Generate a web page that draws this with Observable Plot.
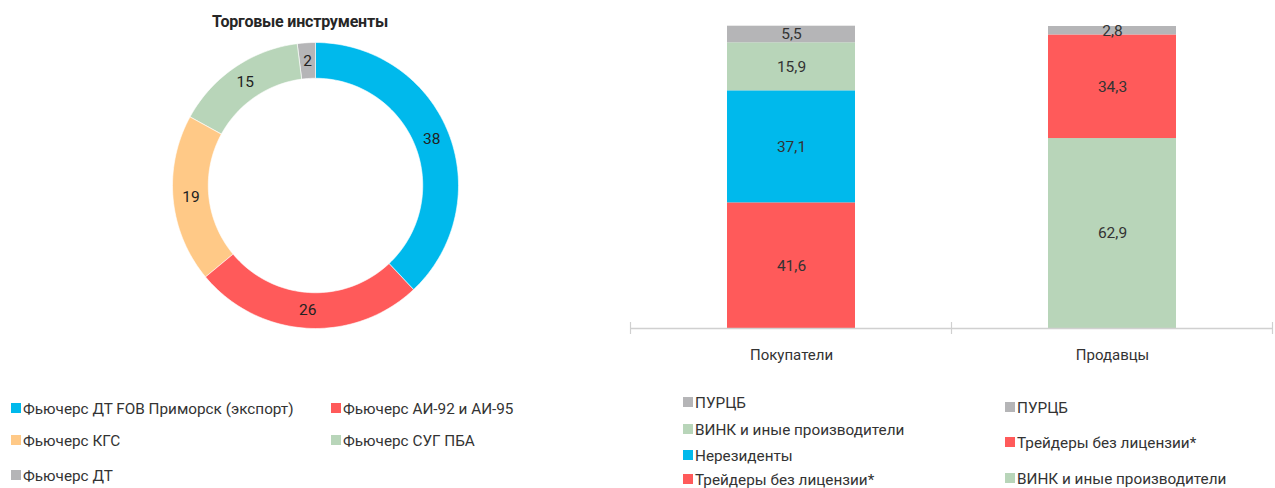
<!DOCTYPE html>
<html>
<head>
<meta charset="utf-8">
<script src="https://cdn.jsdelivr.net/npm/d3@7"></script>
<script src="https://cdn.jsdelivr.net/npm/@observablehq/plot@0.6"></script>
<style>
  html, body { margin: 0; padding: 0; background: #fff; }
  #root { position: relative; width: 1275px; height: 488px; overflow: hidden; font-family: Roboto, "Noto Sans", sans-serif; color: #333; }
  .abs { position: absolute; }
  .title { font-weight: bold; font-size: 16px; color: #262626; text-align: center; letter-spacing: -0.2px; }
  .leg { position: absolute; font-size: 15.3px; color: #333; white-space: nowrap; line-height: 18px; }
  .leg .sw { display: inline-block; width: 10px; height: 10px; margin-right: 2px; vertical-align: 1px; }
</style>
</head>
<body>
<div id="root"></div>
<script>
// ---- Donut data ----
const donutNames = ["Фьючерс ДТ FOB Приморск (экспорт)", "Фьючерс АИ-92 и АИ-95", "Фьючерс КГС", "Фьючерс СУГ ПБА", "Фьючерс ДТ"];
const donutValues = [38, 26, 19, 15, 2];
const donutColors = ["#00B9EC", "#FF5A5A", "#FFC987", "#B8D5B9", "#B5B5B7"];
const donutTitle = "Торговые инструменты";

// ---- Bar data ----
const barCategories = ["Покупатели", "Продавцы"];
const buyerSeries = ["Трейдеры без лицензии*", "Нерезиденты", "ВИНК и иные производители", "ПУРЦБ"];
const buyerValues = [41.6, 37.1, 15.9, 5.5];
const sellerSeries = ["ВИНК и иные производители", "Трейдеры без лицензии*", "ПУРЦБ"];
const sellerValues = [62.9, 34.3, 2.8];
const barSeriesNames = ["Трейдеры без лицензии*", "Нерезиденты", "ВИНК и иные производители", "ПУРЦБ"];
const barSeriesColors = ["#FF5A5A", "#00B9EC", "#B8D5B9", "#B5B5B7"];
const buyerLegend = ["ПУРЦБ", "ВИНК и иные производители", "Нерезиденты", "Трейдеры без лицензии*"];
const sellerLegend = ["ПУРЦБ", "Трейдеры без лицензии*", "ВИНК и иные производители"];

const root = document.getElementById("root");
const fmt = v => String(v).replace(".", ",");

// ---- Donut geometry from data ----
const total = d3.sum(donutValues);
const inner = 0.75, outer = 1;
const ringPts = [];
const sliceLabels = [];
let acc = 0;
donutNames.forEach((name, i) => {
  const a0 = acc / total, a1 = (acc + donutValues[i]) / total;
  acc += donutValues[i];
  const n = Math.max(4, Math.ceil((a1 - a0) * 200));
  for (let k = 0; k <= n; k++) {
    const a = 2 * Math.PI * (a0 + (a1 - a0) * k / n);
    ringPts.push({name, x: outer * Math.sin(a), y: outer * Math.cos(a)});
  }
  for (let k = n; k >= 0; k--) {
    const a = 2 * Math.PI * (a0 + (a1 - a0) * k / n);
    ringPts.push({name, x: inner * Math.sin(a), y: inner * Math.cos(a)});
  }
  const am = 2 * Math.PI * (a0 + a1) / 2, rm = (inner + outer) / 2;
  sliceLabels.push({name, value: donutValues[i], x: rm * Math.sin(am), y: rm * Math.cos(am)});
});

const donut = Plot.plot({
  width: 286, height: 286, margin: 0,
  x: {domain: [-1, 1], axis: null},
  y: {domain: [-1, 1], axis: null},
  color: {domain: donutNames, range: donutColors},
  style: {fontFamily: "Roboto, sans-serif", fontSize: "15px", color: "#222", background: "transparent", overflow: "visible"},
  marks: [
    Plot.line(ringPts, {x: "x", y: "y", z: "name", fill: "name", stroke: "white", strokeWidth: 0.6, curve: "linear-closed"}),
    Plot.text(sliceLabels, {x: "x", y: "y", text: d => String(d.value), fill: "#222", fontSize: 15.5})
  ]
});
donut.style.position = "absolute";
donut.style.left = "172px";
donut.style.top = "42px";
root.appendChild(donut);

const title = document.createElement("div");
title.className = "abs title";
title.style.left = "150px"; title.style.width = "300px"; title.style.top = "12px";
title.textContent = donutTitle;
root.appendChild(title);

// ---- Bars ----
const barData = [
  ...buyerSeries.map((s, i) => ({cat: barCategories[0], series: s, value: buyerValues[i]})),
  ...sellerSeries.map((s, i) => ({cat: barCategories[1], series: s, value: sellerValues[i]}))
];

function boundaryTicks(index, scales, values, dimensions) {
  const sx = scales.x;
  const step = sx.step ? sx.step() : (dimensions.width - dimensions.marginLeft - dimensions.marginRight) / barCategories.length;
  const off = (step - sx.bandwidth()) / 2;
  const xs = barCategories.map(c => sx(c) - off);
  xs.push(sx(barCategories[barCategories.length - 1]) + sx.bandwidth() + off);
  const y0 = scales.y(0);
  const g = d3.create("svg:g");
  xs.forEach(x => {
    g.append("line").attr("x1", x).attr("x2", x).attr("y1", y0 - 6).attr("y2", y0 + 6)
      .attr("stroke", "#d0d0d0").attr("stroke-width", 1.2);
  });
  return g.node();
}

const bars = Plot.plot({
  width: 675, height: 370,
  marginLeft: 30, marginRight: 2, marginTop: 26, marginBottom: 42,
  x: {domain: barCategories, paddingInner: 0.6, paddingOuter: 0.3, label: null, tickSize: 0, tickPadding: 21},
  y: {domain: [0, 100], axis: null},
  color: {domain: barSeriesNames, range: barSeriesColors},
  style: {fontFamily: "Roboto, sans-serif", fontSize: "15px", color: "#333", background: "transparent", overflow: "visible"},
  marks: [
    Plot.barY(barData, {x: "cat", y: "value", fill: "series", inset: 0}),
    Plot.text(barData, Plot.stackY({x: "cat", y: "value", z: "series", text: d => fmt(d.value), fill: "#333", fontSize: 15.5})),
    Plot.ruleY([0], {stroke: "#d0d0d0", strokeWidth: 1.5}),
    boundaryTicks
  ]
});
bars.style.position = "absolute";
bars.style.left = "600px";
bars.style.top = "0px";
root.appendChild(bars);

// ---- Legends ----
function legendItem(label, color, left, centerY) {
  const d = document.createElement("div");
  d.className = "leg";
  d.style.left = left + "px";
  d.style.top = (centerY - 9) + "px";
  const sw = document.createElement("span");
  sw.className = "sw";
  sw.style.background = color;
  d.appendChild(sw);
  d.appendChild(document.createTextNode(label));
  root.appendChild(d);
}
const dc = Object.fromEntries(donutNames.map((n, i) => [n, donutColors[i]]));
legendItem(donutNames[0], dc[donutNames[0]], 11, 409);
legendItem(donutNames[1], dc[donutNames[1]], 331, 409);
legendItem(donutNames[2], dc[donutNames[2]], 11, 441);
legendItem(donutNames[3], dc[donutNames[3]], 331, 441);
legendItem(donutNames[4], dc[donutNames[4]], 11, 476);

const bc = Object.fromEntries(barSeriesNames.map((n, i) => [n, barSeriesColors[i]]));
const buyerYs = [403, 430, 456, 480];
buyerLegend.forEach((n, i) => legendItem(n, bc[n], 683, buyerYs[i]));
const sellerYs = [408, 443, 479];
sellerLegend.forEach((n, i) => legendItem(n, bc[n], 1005, sellerYs[i]));
</script>
</body>
</html>
